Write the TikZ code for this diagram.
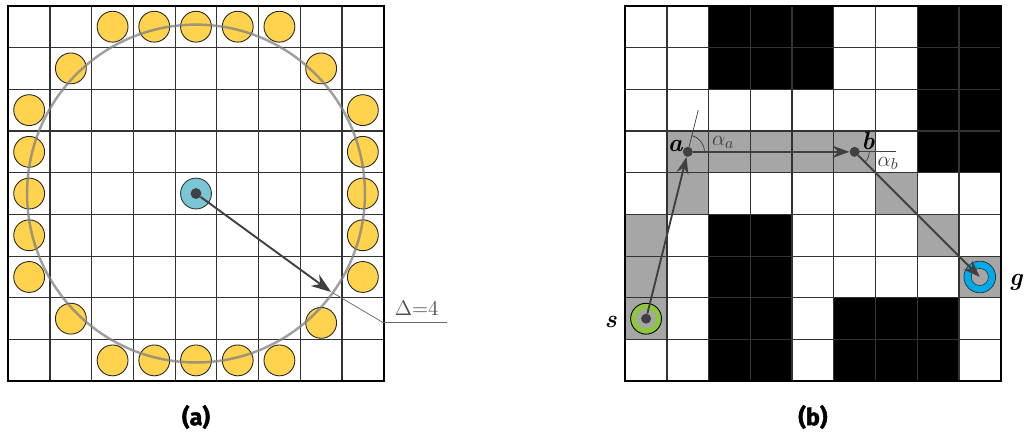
\documentclass[tikz,border=0pt]{standalone}
\usepackage{fontspec}
\newfontfamily\capfont[BoldFeatures={FakeBold=1.6}]{Fira Sans}
\usetikzlibrary{arrows.meta}
\definecolor{sunflower}{RGB}{255,211,77}
\definecolor{skyblue}{RGB}{122,197,214}
\definecolor{ringgreen}{RGB}{141,198,63}
\definecolor{ringblue}{RGB}{0,169,235}
\definecolor{darkline}{RGB}{64,64,64}
\definecolor{pathgray}{RGB}{166,166,166}
\tikzset{
  neighbour/.style={circle, draw=black!85, fill=sunflower, line width=0.6pt, minimum size=0.74cm, inner sep=0pt},
  centre/.style={circle, draw=black!80, fill=skyblue, line width=0.6pt, minimum size=0.74cm, inner sep=0pt},
  dot/.style={circle, fill=darkline, minimum size=0.24cm, inner sep=0pt},
  ptlabel/.style={font=\fontsize{17}{20}\selectfont\bfseries\itshape, inner sep=0pt},
  anglabel/.style={font=\fontsize{15}{17}\selectfont, text=black!75, inner sep=0pt},
  caption/.style={font=\capfont\bfseries\fontsize{16}{19}\selectfont, inner sep=0pt},
  cellgrid/.style={black!80, line width=0.8pt},
  pathline/.style={->, darkline, line width=1.3pt}
}
\begin{document}
\begin{tikzpicture}[>={Stealth[length=4mm,width=2.9mm]}]
\useasboundingbox (-0.199,-1.228) rectangle (24.35,9.14);
% (a) neighbourhood of radius 4
\draw[cellgrid] (0,0) grid (9,9);
\draw[black, line width=1.2pt] (0,0) rectangle (9,9);
\foreach \c in {2,...,6} {
  \node[neighbour] (t\c) at (\c+0.5,8.5) {};
  \node[neighbour] (u\c) at (\c+0.5,0.5) {};
}
\foreach \r in {2,...,6} {
  \node[neighbour] (l\r) at (0.5,\r+0.5) {};
  \node[neighbour] (r\r) at (8.5,\r+0.5) {};
}
\node[neighbour] (d1) at (1.5,7.5) {};
\node[neighbour] (d2) at (7.5,7.5) {};
\node[neighbour] (d3) at (1.5,1.5) {};
\node[neighbour] (d4) at (7.5,1.4) {};
\draw[black!50, line width=1.7pt, draw opacity=0.75] (4.5,4.5) circle[radius=4.05];
\node[centre] (c) at (4.5,4.5) {};
\node[dot, minimum size=0.26cm] (cd) at (4.5,4.5) {};
\coordinate (tip) at (7.74,2.14);
\draw[->, darkline, line width=1.3pt, >={Stealth[length=4.8mm,width=3.4mm]}] (cd) -- (tip);
\coordinate (lp) at (7.78,2.12);
\coordinate (lk) at (8.98,1.41);
\coordinate (le) at (10.52,1.41);
\draw[black!60, line width=0.5pt] (lp) -- (lk) -- (le);
\node[font=\fontsize{14}{16}\selectfont, text=black!70, inner sep=0pt] (delta) at (9.79,1.74) {$\Delta{=}4$};
\node[caption] (capa) at (4.5,-0.857) {(a)};
% (b) any-angle path on an occupancy grid
\begin{scope}[shift={(14.79,0)}]
\foreach \x/\y in {2/8,3/8,4/8,7/8,8/8,2/7,3/7,4/7,7/7,8/7,7/6,8/6,7/5,8/5,
                   2/3,3/3,2/2,3/2,2/1,3/1,5/1,6/1,7/1,2/0,3/0,5/0,6/0,7/0}
  \fill[black] (\x,\y) rectangle ++(1,1);
\foreach \x/\y in {1/5,2/5,3/5,4/5,5/5,1/4,6/4,0/3,7/3,0/2,8/2,0/1}
  \fill[pathgray] (\x,\y) rectangle ++(1,1);
\draw[cellgrid] (0,0) grid (9,9);
\draw[black, line width=1.2pt] (0,0) rectangle (9,9);
\node[circle, draw=black, fill=ringgreen, line width=0.6pt, minimum size=0.74cm, inner sep=0pt] (sring) at (0.5,1.5) {};
\node[circle, fill=pathgray, minimum size=0.46cm, inner sep=0pt] (shole) at (0.5,1.5) {};
\node[circle, draw=black!80, fill=ringblue, line width=0.5pt, minimum size=0.76cm, inner sep=0pt] (gring) at (8.5,2.5) {};
\node[circle, draw=black!80, fill=pathgray, line width=0.4pt, minimum size=0.41cm, inner sep=0pt] (ghole) at (8.5,2.5) {};
\node[dot] (s) at (0.5,1.5) {};
\node[dot] (a) at (1.5,5.5) {};
\node[dot] (b) at (5.5,5.5) {};
\coordinate (g) at (8.5,2.5);
\coordinate (ax) at (1.75,6.5);
\coordinate (bx) at (6.5,5.5);
\draw[darkline, line width=0.5pt] (a.center) -- (ax);
\draw[darkline, line width=0.5pt] (b.center) -- (bx);
\draw[darkline, line width=0.5pt] (a.center) ++(0.4,0) arc[start angle=0, end angle=75.96, radius=0.4];
\draw[darkline, line width=0.5pt] (b.center) ++(0.35,0) arc[start angle=0, end angle=-45, radius=0.35];
\draw[pathline] (s) -- (a);
\draw[pathline] (a) -- (b);
\draw[pathline] (b) -- (g);
\node[ptlabel] (la) at (1.2,5.65) {a};
\node[ptlabel] (lb) at (5.82,5.75) {b};
\node[ptlabel] (ls) at (-0.35,1.42) {s};
\node[ptlabel] (lg) at (9.36,2.36) {g};
\node[anglabel] (aa) at (2.35,5.73) {$\alpha_a$};
\node[anglabel] (ab) at (6.3,5.22) {$\alpha_b$};
\node[caption] (capb) at (4.5,-0.857) {(b)};
\end{scope}
\end{tikzpicture}
\end{document}
